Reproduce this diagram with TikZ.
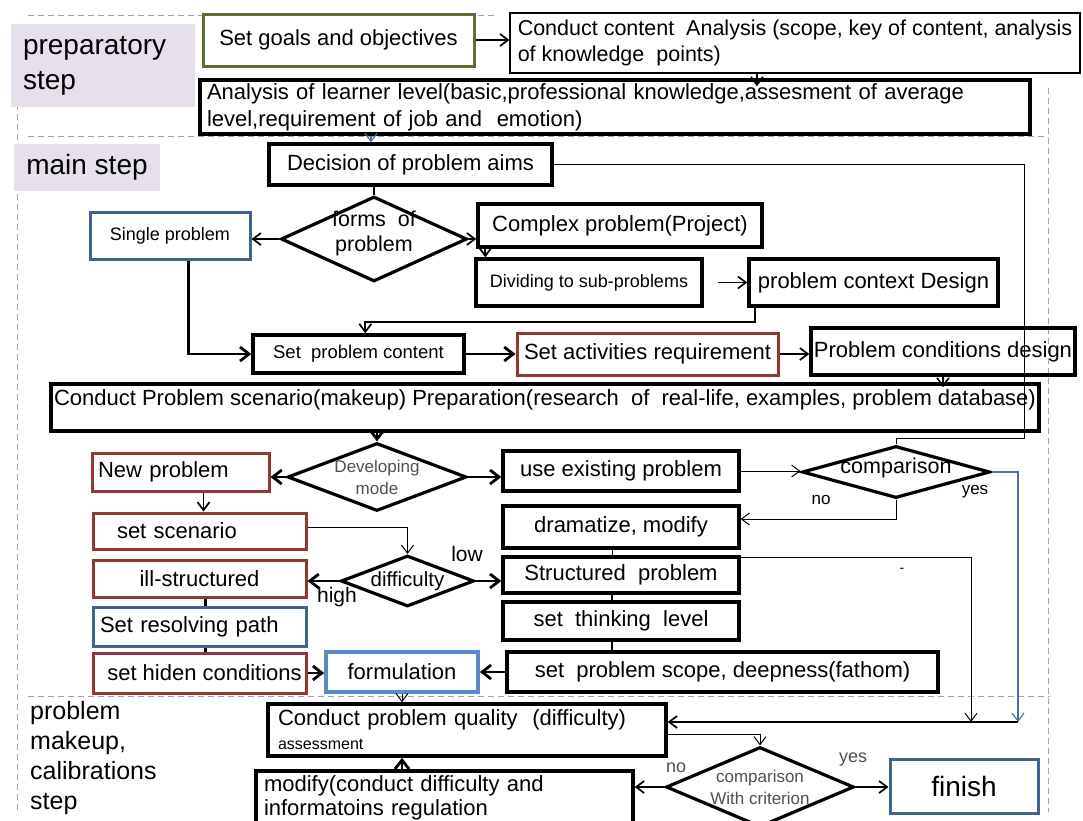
\documentclass[tikz,border=0pt]{standalone}
\usepackage{fontspec}
\setmainfont{Liberation Sans}
\usetikzlibrary{shapes.geometric,arrows.meta}

\newcommand{\fsz}[2]{\fontsize{#1}{#2}\selectfont}

\definecolor{frameGreen}{HTML}{5A6E32}
\definecolor{frameBlue}{HTML}{41648F}
\definecolor{formBlue}{HTML}{5B8AC6}
\definecolor{frameRed}{HTML}{953735}
\definecolor{secFill}{HTML}{E5E0EC}
\definecolor{dashGray}{HTML}{95A5BD}
\definecolor{lineBlue}{HTML}{4F6E9E}
\definecolor{labGray}{HTML}{505050}

\tikzset{
  box/.style={draw, rectangle, inner sep=3pt, font=\fsz{22}{27}},
  thk/.style={box, line width=3.4pt},
  thn/.style={box, line width=1.1pt},
  grn/.style={box, draw=frameGreen, line width=3pt},
  blu/.style={box, draw=frameBlue, line width=3pt},
  redbox/.style={box, draw=frameRed, line width=3pt},
  formbox/.style={box, draw=formBlue, line width=3.6pt},
  lft/.style={align=left, text width=#1},
  dia/.style={draw, diamond, line width=3.2pt, inner sep=0pt},
  dtext/.style={font=\fsz{21.5}{25}, align=center},
  dsmall/.style={font=\fsz{17}{22}, align=center, text=labGray},
  sect/.style={fill=secFill, font=\fsz{28}{35}, align=left},
  secline/.style={draw=dashGray, line width=1pt, dash pattern=on 6pt off 4pt},
  line/.style={line width=2.6pt},
  thnline/.style={line width=1pt},
  arr/.style={-{Straight Barb[length=8pt,width=12pt]}, line width=1.7pt},
  thkarr/.style={-{Straight Barb[length=9pt,width=14pt]}, line width=2.8pt},
  thnarr/.style={->, line width=1pt},
  bluarr/.style={->, line width=1.1pt, draw=lineBlue},
  lab/.style={font=\fsz{21}{24}, inner sep=1pt},
  glab/.style={font=\fsz{18}{22}, text=labGray, inner sep=1pt}
}

\begin{document}
\begin{tikzpicture}[x=1pt, y=-1pt, >={Straight Barb[length=8pt,width=12pt]}]

\clip (0,0) rectangle (1083,820);

% frames of the three steps
\draw[secline] (28,15) -- (497,15);
\draw[secline] (17,24) -- (17,812);
\draw[secline] (1048,88) -- (1048,812);
\draw[secline] (28,136) -- (1048,136);
\draw[secline] (28,696) -- (1050,696);

% step labels
\node[sect, minimum width=184pt, minimum height=83pt, text width=160pt, inner xsep=12pt, xshift=4pt] (prep) at (99,65.5) {preparatory\\step};
\node[sect, minimum width=146pt, minimum height=47pt] (mainlab) at (87,167.5) {main step};
\node[font=\fsz{25}{30}, align=left, anchor=north west, inner sep=0pt] (makeup) at (30,701) {problem\\makeup,\\calibrations\\step};

% preparatory step
\node[grn, minimum width=271pt, minimum height=52pt] (goals) at (338.5,40) {Set goals and objectives};
\node[thn, minimum width=570pt, minimum height=60pt, align=left, font=\fsz{21.5}{26}] (content) at (795,43) {Conduct content\ \ Analysis (scope, key of content, analysis\\of knowledge\ \ points)};
\node[thk, minimum width=830pt, minimum height=54pt, lft=816pt, inner xsep=4pt] (learner) at (615,107) {Analysis of learner level(basic,professional knowledge,assesment of average\\level,requirement of job and\ \ emotion)};

% main step
\node[thk, minimum width=283pt, minimum height=41pt] (aims) at (410.5,164.5) {Decision of problem aims};
\node[dia, minimum width=186pt, minimum height=85pt, label={[dtext, yshift=6pt]center:{forms\ \ of\\problem}}] (forms) at (374,239) {};
\node[blu, minimum width=160pt, minimum height=47pt, font=\fsz{18}{21}] (single) at (170,235.5) {Single problem};
\node[thk, minimum width=284pt, minimum height=43pt] (complex) at (620,225.5) {Complex problem(Project)};
\node[thk, minimum width=226pt, minimum height=47pt, font=\fsz{18}{21}] (dividing) at (589,282.5) {Dividing to sub-problems};
\node[thk, minimum width=249pt, minimum height=47pt] (context) at (873.5,282.5) {problem context Design};
\node[thk, minimum width=211pt, minimum height=38pt, font=\fsz{18.5}{22}] (setcontent) at (358.5,354) {Set\ \ problem content};
\node[redbox, minimum width=261pt, minimum height=42pt] (activities) at (647.5,354) {Set activities requirement};
\node[thk, minimum width=262pt, minimum height=47pt] (conditions) at (943,351.5) {Problem conditions design};
\node[thk, minimum width=986pt, minimum height=47pt, text height=16pt, text depth=21pt, inner ysep=5pt] (scenario) at (545,407.5) {Conduct Problem scenario(makeup) Preparation(research\ \ of\ \ real-life, examples, problem database)};

\node[dia, minimum width=179pt, minimum height=68pt, label={[dsmall]center:{Developing\\mode}}] (devmode) at (377,477) {};
\node[redbox, minimum width=177pt, minimum height=38pt, lft=165pt, inner xsep=6pt] (newprob) at (180.5,472) {New problem};
\node[thk, minimum width=236pt, minimum height=40pt] (useexist) at (621,471) {use existing problem};
\node[dia, minimum width=188pt, minimum height=52pt, label={[dtext, yshift=4pt]center:comparison}] (comp) at (896,472) {};
\node[redbox, minimum width=213pt, minimum height=36pt, lft=165pt, inner xsep=24pt] (setscen) at (199.5,531) {set scenario};
\node[thk, minimum width=236pt, minimum height=42pt] (dramatize) at (621,527) {dramatize, modify};
\node[dia, minimum width=133pt, minimum height=51pt, label={[dtext, font=\fsz{20.5}{24}]center:difficulty}] (difficulty) at (407.5,581) {};
\node[redbox, minimum width=213pt, minimum height=37pt] (ill) at (199.5,578.5) {ill-structured};
\node[thk, minimum width=236pt, minimum height=36pt] (structured) at (621,575) {Structured\ \ problem};
\node[blu, minimum width=213pt, minimum height=39pt, lft=199pt, inner xsep=7pt] (resolve) at (199.5,626.5) {Set resolving path};
\node[thk, minimum width=236pt, minimum height=38pt] (thinking) at (621,621) {set\ \ thinking\ \ level};
\node[redbox, minimum width=213pt, minimum height=40pt] (hidden) at (199.5,673) {\hspace*{10pt}set hiden conditions};
\node[formbox, minimum width=152pt, minimum height=40pt] (formulation) at (402,672) {formulation};
\node[thk, minimum width=431pt, minimum height=40pt] (scope) at (722.5,672) {set\ \ problem scope, deepness(fathom)};

% problem makeup, calibrations step
\node[thk, minimum width=398pt, minimum height=52pt, lft=378pt, inner xsep=10pt] (quality) at (467,730) {Conduct problem quality\ \ (difficulty)\\[-3pt]{\fsz{16}{20}assessment}};
\node[thk, minimum width=377pt, minimum height=54pt, lft=361pt, inner xsep=8pt] (modify) at (444.5,798) {modify(conduct difficulty and\\[-3pt]informatoins regulation};
\node[dia, minimum width=188pt, minimum height=80pt, label={[dsmall]center:{comparison\\With criterion}}] (comp2) at (760,787) {};
\node[blu, minimum width=148pt, minimum height=54pt, font=\fsz{28}{32}] (finish) at (964,786) {finish};

% branch labels
\node[lab] (lowlab) at (467,554) {low};
\node[lab] (highlab) at (337,597) {high};
\node[lab, font=\fsz{17}{20}] (nolab) at (821,500) {no};
\node[lab, font=\fsz{17}{20}] (yeslab) at (975,492) {yes};
\node[glab] (nolab2) at (676,768) {no};
\node[glab] (yeslab2) at (853,760) {yes};
\node[lab, font=\fsz{14}{16}] (dashmark) at (902,570) {-};

% connectors, preparatory step
\draw[arr] (goals.east) -- (goals.east -| content.west);
\draw[arr, shorten >=-8pt] ([xshift=-38pt]content.south) -- ([xshift=-38pt]content.south |- learner.north);
\draw[bluarr] ([xshift=-39.5pt]aims.north |- learner.south) -- ([xshift=-39.5pt]aims.north);

% connectors, main step
\draw[line] (aims.south -| forms.north) -- (forms.north);
\coordinate (loop) at (1024,438);
\draw[thnline] (aims.east) -| (loop) -- (loop -| comp.north) -- (comp.north);
\draw[arr] (forms.west) -- (forms.west -| single.east);
\draw[arr] (forms.east) -- (forms.east -| complex.west);
\draw[arr] ([xshift=11pt]dividing.north west |- complex.south) -- ([xshift=11pt]dividing.north west);
\draw[arr, shorten <=14pt] (dividing.east) -- (dividing.east -| context.west);
\draw[arr] ([xshift=8pt]context.south west) -- ++(0,14) -| ([xshift=114pt]setcontent.north west);
\draw[thkarr] ([xshift=100pt]single.south west) |- (setcontent.west);
\draw[thkarr] (setcontent.east) -- (activities.west);
\draw[arr] (activities.east) -- (activities.east -| conditions.west);
\draw[arr, shorten >=-5pt] (conditions.south) -- (conditions.south |- scenario.north);
\draw[thkarr] (devmode.north |- scenario.south) -- (devmode.north);
\draw[thkarr] (devmode.west) -- (devmode.west -| newprob.east);
\draw[thkarr] (devmode.east) -- (devmode.east -| useexist.west);
\draw[arr] ([xshift=113pt]newprob.south west) -- ([xshift=113pt]newprob.south west |- setscen.north);
\draw[thnarr] ([yshift=4pt]setscen.east) -| (difficulty.north);
\draw[thkarr] (difficulty.west) -- (difficulty.west -| ill.east);
\draw[thkarr] (difficulty.east) -- (difficulty.east -| structured.west);
\draw[line] ([xshift=6pt]ill.south) -- ([xshift=6pt]resolve.north);
\draw[line] ([xshift=6pt]resolve.south) -- ([xshift=6pt]hidden.north);
\draw[line] ([xshift=-9pt]structured.south) -- ([xshift=-9pt]thinking.north);
\draw[line] ([xshift=-9pt]thinking.south) -- ([xshift=-9pt]thinking.south |- scope.north);
\draw[thkarr] (hidden.east) -- (hidden.east -| formulation.west);
\draw[thkarr] (scope.west) -- (formulation.east);
\draw[thnarr] (useexist.east) -- (useexist.east -| comp.west);
\draw[thnarr] (comp.south) |- ([yshift=8pt]dramatize.east);

\coordinate (rjoin) at (1018,722);
\coordinate (mjoin) at (971,722);
\draw[bluarr] (comp.east) -| (rjoin);
\draw[thnarr] ([xshift=-9pt]dramatize.south) -- ++(0,8) -| (mjoin);
\draw[arr] (rjoin) -- (rjoin -| quality.east);

% connectors, makeup step
\draw[thnarr] (formulation.south) -- (formulation.south |- quality.north);
\draw[thkarr] (formulation.south |- modify.north) -- (formulation.south |- quality.south);
\draw[thnarr] ([yshift=-4pt]quality.east) -| (comp2.north);
\draw[arr] (comp2.west) -- (comp2.west -| modify.east);
\draw[arr] (comp2.east) -- (comp2.east -| finish.west);
\end{tikzpicture}
\end{document}
